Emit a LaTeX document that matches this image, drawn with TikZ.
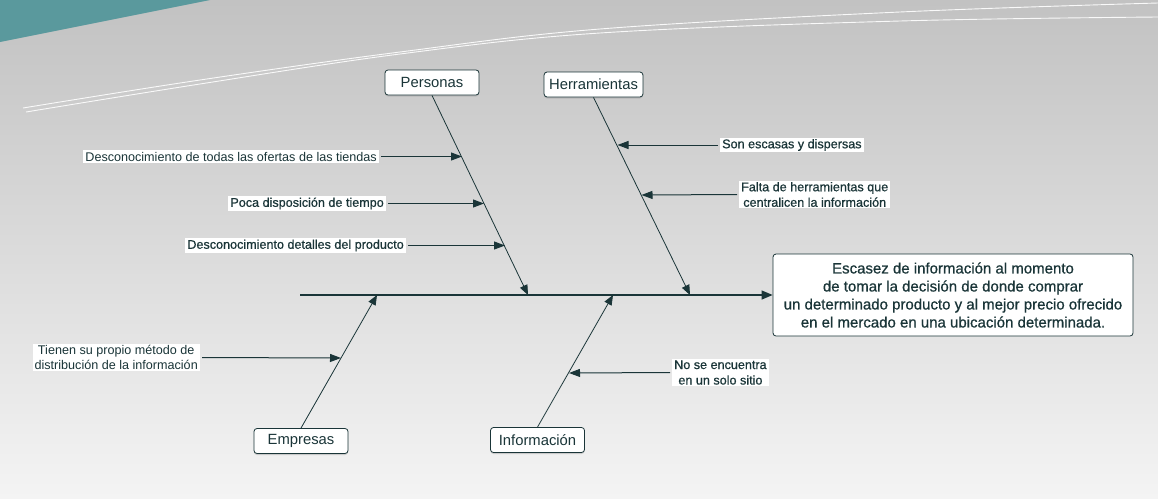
\documentclass[tikz,border=0pt]{standalone}
\usepackage{fontspec}
\setmainfont{Liberation Sans}
\newfontfamily\heavy[FakeBold=0.7]{Liberation Sans}
\usetikzlibrary{arrows.meta,shadows}
\definecolor{bgtop}{HTML}{C2C2C2}
\definecolor{bgbot}{HTML}{F4F4F4}
\definecolor{tealc}{HTML}{5A999D}
\definecolor{ink}{HTML}{1A3538}
\begin{document}
\begin{tikzpicture}[x=1pt,y=-1pt,
  catbox/.style={draw=ink, fill=white, rounded corners=3pt, line width=0.8pt,
    minimum width=94pt, minimum height=25pt, inner xsep=5pt, text=ink,
    font=\fontsize{14.8}{17}\selectfont,
    drop shadow={shadow xshift=0pt, shadow yshift=-1.5pt, fill=black!35}},
  effbox/.style={draw=ink, fill=white, rounded corners=3pt, line width=0.8pt,
    minimum width=360pt, minimum height=82pt, text=ink, align=center,
    font=\heavy\fontsize{15}{18}\selectfont},
  lbl/.style={fill=white, inner xsep=2pt, inner ysep=1.5pt, text=ink,
    align=center, font=\fontsize{12.6}{15.5}\selectfont},
  hlbl/.style={lbl, font=\heavy\fontsize{12.6}{15.5}\selectfont},
  bone/.style={draw=ink, line width=0.8pt, -{Triangle[length=10pt,width=8pt]}},
  spine/.style={draw=ink, line width=1.2pt, -{Triangle[length=11pt,width=9pt]}},
  sub/.style={draw=ink, line width=1pt, shorten <=2pt, -{Triangle[length=11pt,width=8pt]}},
  deco/.style={draw=white!95!gray, line width=0.9pt}
]
\useasboundingbox (0,0) rectangle (1158,498);
% background
\shade[top color=bgtop, bottom color=bgbot] (0,0) rectangle (1158,498);
\fill[tealc] (0,0) -- (210,0) -- (0,42) -- cycle;
\draw[deco] plot[smooth, tension=0.6] coordinates {(23,108) (200,80) (400,52) (600,29) (900,12) (1158,3)};
\draw[deco] plot[smooth, tension=0.6] coordinates {(26,112) (200,84) (400,54) (600,33) (900,21) (1158,17)};

% effect
\node[effbox] (effect) at (953,295) {Escasez de información al momento\\de tomar la decisión de donde comprar\\un determinado producto y al mejor precio ofrecido\\en el mercado en una ubicación determinada.};

% categories
\node[catbox] (personas) at (432,82.5) {Personas};
\node[catbox] (herr) at (593.5,84.5) {Herramientas};
\node[catbox] (empresas) at (301,441) {Empresas};
\node[catbox] (info) at (537.5,440) {Información};

% spine
\coordinate (tail) at (300,295);
\draw[spine] (tail) -- (effect.west);

% bone tips on spine
\coordinate (pt) at (528,295);
\coordinate (ht) at (690,295);
\coordinate (et) at (377,295);
\coordinate (it) at (613,295);
\draw[bone] (personas.south) -- (pt);
\draw[bone] (herr.south) -- (ht);
\draw[bone] (empresas.north) -- (et);
\draw[bone] (info.north) -- (it);

% points on bones
\coordinate (p1) at (462,156.5);
\coordinate (p2) at (484,203.5);
\coordinate (p3) at (505,245.5);
\coordinate (h1) at (617.5,145);
\coordinate (h2) at (641.5,195);
\coordinate (e1) at (341,358);
\coordinate (i1) at (569,373);

% labels
\node[lbl, anchor=east] (l1) at (379,156.5) {Desconocimiento de todas las ofertas de las tiendas};
\node[hlbl, anchor=east] (l2) at (386,203.5) {Poca disposición de tiempo};
\node[hlbl, anchor=east] (l3) at (406,245.5) {Desconocimiento detalles del producto};
\node[hlbl, anchor=west] (l4) at (720,145) {Son escasas y dispersas};
\node[hlbl, anchor=west] (l5) at (739,194.5) {Falta de herramientas que\\centralicen la información};
\node[lbl, anchor=east] (l6) at (200,357.5) {Tienen su propio método de\\distribución de la información};
\node[hlbl, anchor=west] (l7) at (672,372.5) {No se encuentra\\en un solo sitio};

\draw[sub] (l1.east) -- (p1);
\draw[sub] (l2.east) -- (p2);
\draw[sub] (l3.east) -- (p3);
\draw[sub] (l4.west) -- (h1);
\draw[sub] (l5.west) -- (h2);
\draw[sub] (l6.east) -- (e1);
\draw[sub] (l7.west) -- (i1);
\end{tikzpicture}
\end{document}
